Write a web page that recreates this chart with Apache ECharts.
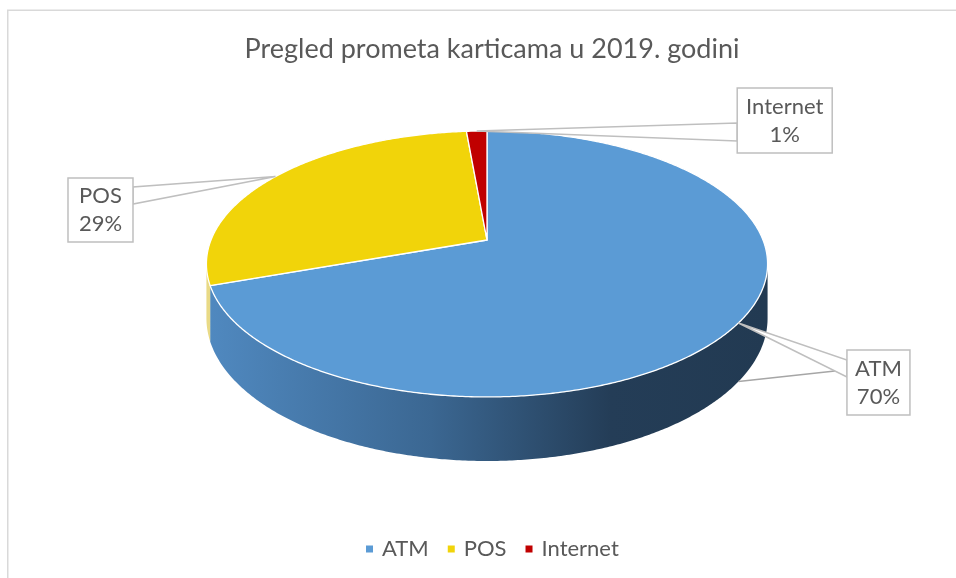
<!DOCTYPE html>
<html><head><meta charset="utf-8">
<script src="https://cdn.jsdelivr.net/npm/echarts@6/dist/echarts.min.js"></script>
<style>html,body{margin:0;padding:0;background:#fff}#chart{width:956px;height:578px}</style>
</head><body><div id="chart"></div>
<script>
// ---- data ----
const categories = ['ATM', 'POS', 'Internet'];
const values = [69.6, 29.0, 1.4];
const titleText = 'Pregled prometa karticama u 2019. godini';

// ---- styles / layout ----
const colors = ['#5b9bd5', '#f1d40a', '#c00000'];
const FONT = 'Lato, "Open Sans", sans-serif';
const TXT = '#595959';
const geo = { cx: 487, cy: 240, A: 276, B: 128.7, k: 0.18, D: 52.5 };
const callouts = [
  { dx: 140, dy: 59.5, w: 63, h: 65, side: 'left', base: [-22.5, -5.5], leader: true },
  { dx: -175, dy: 33.5, w: 65, h: 64, side: 'right', base: [-23, -6] },
  { dx: 308, dy: -10.5, w: 95, h: 65, side: 'left', base: [2.5, 20.5] }
];

const total = values.reduce((a, b) => a + b, 0);
const starts = []; let acc = 0;
values.forEach(v => { starts.push(acc / total * 360); acc += v; });
const ends = values.map((v, i) => starts[i] + v / total * 360);

function proj(deg, low) {
  const t = deg * Math.PI / 180;
  const u = Math.sin(t), v = Math.cos(t);
  const w = 1 + geo.k * v;
  return [geo.cx + geo.A * u / w, geo.cy - geo.B * v / w + (low ? geo.D / w : 0)];
}
function arc(a, b, low) {
  const pts = [];
  const n = Math.max(2, Math.ceil(Math.abs(b - a) / 0.5));
  for (let j = 0; j <= n; j++) pts.push(proj(a + (b - a) * j / n, low));
  return pts;
}
const frontA = Math.acos(-geo.k) * 180 / Math.PI;
const frontB = 360 - frontA;
const leftX = proj(frontB, false)[0], rightX = proj(frontA, false)[0];
const sideFills = [
  new echarts.graphic.LinearGradient(leftX, 0, rightX, 0, [
    { offset: 0, color: '#5089c0' },
    { offset: 0.4, color: '#3b6792' },
    { offset: 0.72, color: '#243d57' },
    { offset: 1, color: '#223a52' }
  ], true),
  '#e9da86',
  '#8a0000'
];

function makeRender(i) {
  return function (params, api) {
    const children = [];
    const a = starts[i], b = ends[i];
    const sa = Math.max(a, frontA), sb = Math.min(b, frontB);
    if (sb > sa) {
      children.push({
        type: 'polygon', z2: 1,
        shape: { points: arc(sa, sb, false).concat(arc(sb, sa, true)) },
        style: { fill: sideFills[i] }
      });
    }
    children.push({
      type: 'polygon', z2: 2,
      shape: { points: [[geo.cx, geo.cy]].concat(arc(a, b, false)) },
      style: { fill: colors[i], stroke: '#ffffff', lineWidth: 1.3, lineJoin: 'round' }
    });
    const mid = (a + b) / 2;
    const anc = proj(mid, false);
    const L = callouts[i];
    const bx = anc[0] + L.dx, by = anc[1] + L.dy;
    const x0 = bx - L.w / 2, y0 = by - L.h / 2;
    const ex = L.side === 'left' ? x0 : x0 + L.w;
    const b1 = [ex, by + L.base[0]], b2 = [ex, by + L.base[1]];
    if (L.leader) {
      const bot = proj(mid, true);
      const t = (ex - 12 - anc[0]) / (ex - anc[0]);
      const p = [anc[0] + t * (b2[0] - anc[0]), anc[1] + t * (b2[1] - anc[1])];
      children.push({ type: 'polyline', z2: 3, shape: { points: [bot, p] },
        style: { stroke: '#a6a6a6', lineWidth: 1.5, fill: null } });
    }
    children.push({ type: 'polygon', z2: 4, shape: { points: [anc, b1, b2] },
      style: { fill: '#ffffff', stroke: '#bfbfbf', lineWidth: 1.5 } });
    children.push({ type: 'rect', z2: 5, shape: { x: x0, y: y0, width: L.w, height: L.h },
      style: { fill: '#ffffff', stroke: '#bfbfbf', lineWidth: 1.5 } });
    children.push({ type: 'text', z2: 6, x: bx, y: by,
      style: { text: categories[i] + '\n' + Math.round(api.value(0) / total * 100) + '%',
        fill: TXT, fontSize: 22, fontFamily: FONT, align: 'center', verticalAlign: 'middle', lineHeight: 28 } });
    return { type: 'group', children };
  };
}

const chart = echarts.init(document.getElementById('chart'), null, { renderer: 'canvas' });
chart.setOption({
  animation: false,
  backgroundColor: '#ffffff',
  title: { text: titleText, left: 487, top: 31, textAlign: 'center',
    textStyle: { fontSize: 27, fontWeight: 'normal', color: TXT, fontFamily: FONT } },
  legend: { data: categories, icon: 'rect', itemWidth: 7, itemHeight: 7, itemGap: 19,
    left: 361, top: 533, textStyle: { fontSize: 22, color: TXT, fontFamily: FONT, padding: [0, 0, 0, 4] } },
  graphic: [{ type: 'rect', silent: true, shape: { x: 7.75, y: 10.25, width: 1000, height: 1000 },
    style: { fill: 'none', stroke: '#d9d9d9', lineWidth: 1.5 } }],
  series: categories.map((c, i) => ({
    type: 'custom', name: c, coordinateSystem: 'none', silent: true,
    itemStyle: { color: colors[i] },
    renderItem: makeRender(i),
    data: [values[i]]
  }))
});
</script></body></html>
